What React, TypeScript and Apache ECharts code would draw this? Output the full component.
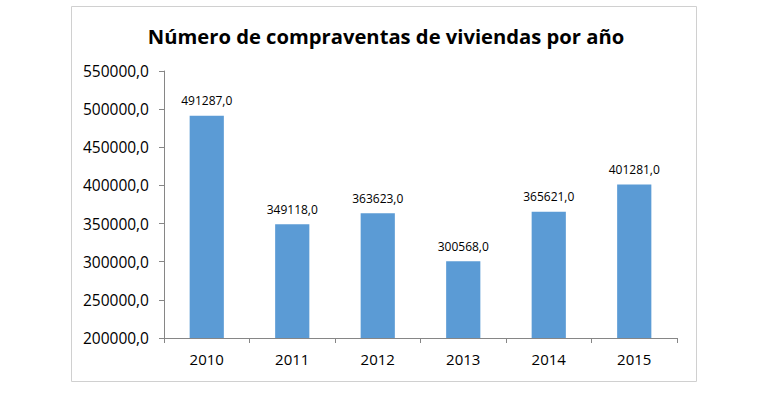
import React, { useEffect, useRef } from "react";
import * as echarts from "echarts";

const categories = ["2010", "2011", "2012", "2013", "2014", "2015"];
const values = [491287, 349118, 363623, 300568, 365621, 401281];
const titleText = "Número de compraventas de viviendas por año";

const fmt = (v: number) => v.toFixed(1).replace(".", ",");

export default function App() {
  const ref = useRef<HTMLDivElement>(null);
  useEffect(() => {
    document.body.style.margin = "0";
    const chart = echarts.init(ref.current!, null, { renderer: "svg" });
    chart.setOption({
      animation: false,
      backgroundColor: "#ffffff",
      title: {
        text: titleText,
        left: 381,
        textAlign: "center",
        top: 21,
        textStyle: { fontFamily: "Open Sans", fontWeight: "bold", fontSize: 20.2, color: "#000" },
      },
      graphic: [
        {
          type: "rect",
          shape: { x: 71.5, y: 6.5, width: 625, height: 375 },
          style: { fill: "none", stroke: "#d0d0d0", lineWidth: 1 },
          silent: true,
        },
      ],
      grid: { left: 164, right: 93, top: 71, bottom: 56 },
      xAxis: {
        type: "category",
        data: categories,
        axisLine: { lineStyle: { color: "#868686" } },
        axisTick: { show: true, alignWithLabel: false, length: 5, lineStyle: { color: "#868686" } },
        axisLabel: { color: "#000", fontSize: 15, fontFamily: "Open Sans", margin: 13 },
      },
      yAxis: {
        type: "value",
        min: 200000,
        max: 550000,
        interval: 50000,
        axisLine: { show: true, lineStyle: { color: "#868686" } },
        axisTick: { show: true, length: 5, lineStyle: { color: "#868686" } },
        splitLine: { show: false },
        axisLabel: { color: "#000", fontSize: 15.5, fontFamily: "Open Sans", margin: 15, formatter: (v: number) => fmt(v) },
      },
      series: [
        {
          type: "bar",
          data: values,
          barWidth: "40%",
          itemStyle: { color: "#5b9bd5" },
          label: {
            show: true,
            position: "top",
            distance: 9,
            color: "#000",
            fontSize: 12,
            fontFamily: "Open Sans",
            formatter: (p: any) => fmt(p.value),
          },
        },
      ],
    });
    return () => chart.dispose();
  }, []);
  return <div ref={ref} style={{ width: 770, height: 394 }} />;
}
